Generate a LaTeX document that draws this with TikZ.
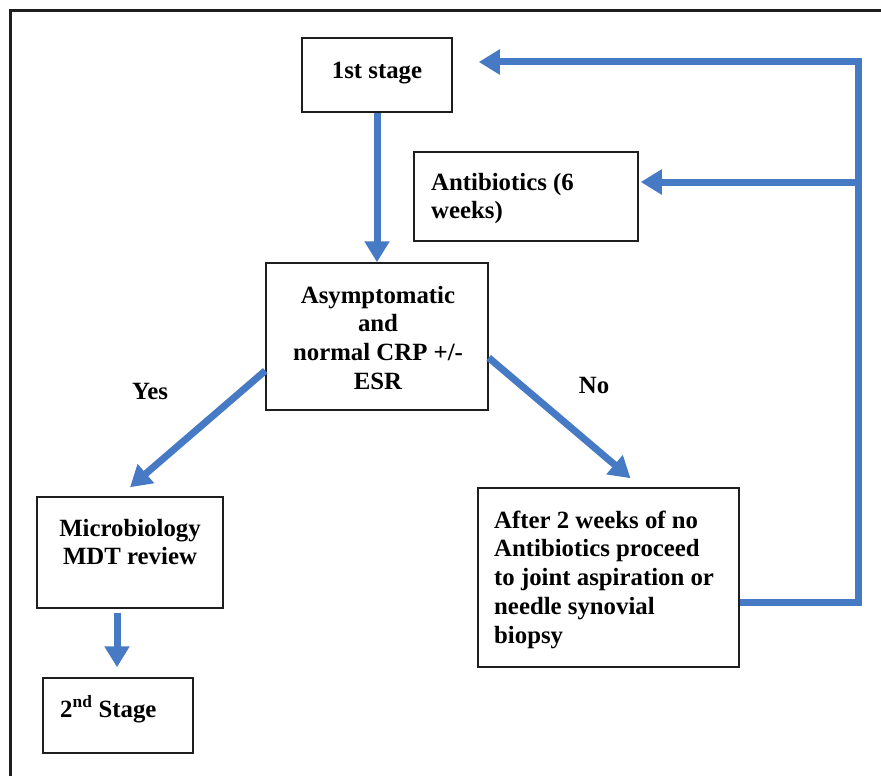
\documentclass[tikz,border=0pt]{standalone}
\usepackage{fontspec}
\setmainfont{Liberation Serif}
\usetikzlibrary{arrows.meta,calc}
\definecolor{flowblue}{RGB}{70,122,196}
\definecolor{boxline}{RGB}{30,30,30}
\newcommand{\mylines}[2]{\begin{tabular}[t]{@{}#1@{}}#2\end{tabular}}
\tikzset{
  box/.style={draw=boxline, line width=1.5pt, inner sep=0pt, fill=white},
  txt/.style={inner sep=0pt, font=\fontsize{24.8}{28.8}\selectfont\bfseries},
  flow/.style={line width=7pt, draw=flowblue, line join=miter},
  arr/.style={flow, -{Triangle[width=24pt,length=21pt]}}
}
\begin{document}
\begin{tikzpicture}[x=1pt,y=-1pt]
\useasboundingbox (0,0) rectangle (881,776);
\fill[white] (0,0) rectangle (881,776);
% frame
\draw[line width=3pt, draw=boxline] (10,776) -- (10,11) -- (881,11);

% boxes
\node[box, minimum width=150pt, minimum height=74pt] (s1) at (377,75) {};
\node[box, minimum width=224pt, minimum height=89pt] (abx) at (526,196.5) {};
\node[box, minimum width=222pt, minimum height=147pt] (asym) at (377,336.5) {};
\node[box, minimum width=186pt, minimum height=111pt] (micro) at (130,552.5) {};
\node[box, minimum width=150pt, minimum height=75pt] (s2) at (118,715.5) {};
\node[box, minimum width=261pt, minimum height=179pt] (after) at (608.5,577.5) {};

% texts
\node[txt, anchor=base] (t1) at (377,78) {1st stage};
\node[txt, anchor=base west] (t2) at (431,190) {\mylines{l}{Antibiotics (6\\weeks)}};
\node[txt, anchor=base] (t3) at (378,303) {\mylines{c}{Asymptomatic\\and\\normal CRP +/-\\ESR}};
\node[txt, anchor=base] (yes) at (150,399) {Yes};
\node[txt, anchor=base] (no) at (594,393) {No};
\node[txt, anchor=base] (t4) at (130,536) {\mylines{c}{Microbiology\\MDT review}};
\node[txt, anchor=base west] (t5) at (60,717) {2\textsuperscript{nd} Stage};
\node[txt, anchor=base west] (t6) at (494,528) {\mylines{l}{After 2 weeks of no\\Antibiotics proceed\\to joint aspiration or\\needle synovial\\biopsy}};

% connectors
\coordinate (c1) at (858,62);
\coordinate (c2) at (858,182);
\coordinate (c3) at (858,602);

\draw[arr] (s1.south) -- (asym.north);
\draw[arr] ([yshift=40pt]asym.south west) -- ([yshift=9pt]micro.north);
\draw[arr] ([yshift=53pt]asym.south east) -- ([xshift=22pt,yshift=9pt]after.north);
\draw[arr] ($(micro.south)+(-13,4)$) -- ($(s2.north)+(-1,-10)$);
\draw[arr] (after.east |- c3) -- (c3) -- (c1) -- ($(s1.east |- c1)+(26,0)$);
\draw[arr] (c2) -- ($(abx.east |- c2)+(2,0)$);
\end{tikzpicture}
\end{document}
